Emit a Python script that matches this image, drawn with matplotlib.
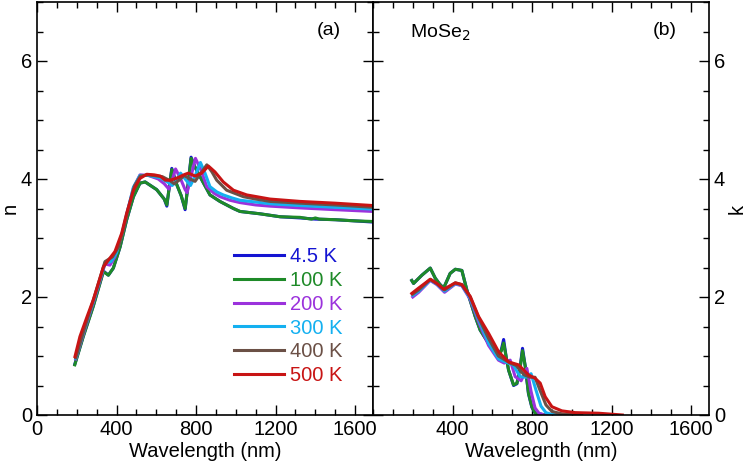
import matplotlib
matplotlib.use("Agg")
import matplotlib.pyplot as plt
from matplotlib.ticker import MultipleLocator

plt.rcParams['font.family'] = ['Liberation Sans', 'DejaVu Sans']

# ===== DATA =====
labels = ["4.5 K", "100 K", "200 K", "300 K", "400 K", "500 K"]
colors = ["#1414d2", "#1e8a28", "#9b32dc", "#14b0f0", "#6b5046", "#c81414"]

# refractive index n
n_wl_45 = [190, 233, 283, 334, 359, 384, 418, 451, 485, 518, 544, 602, 640, 653, 665, 678, 700, 725, 745,
           760, 775, 795, 820, 870, 920, 988, 1021, 1122, 1223, 1323, 1400, 1500, 1600, 1690]
n_45 = [0.86, 1.34, 1.85, 2.44, 2.37, 2.49, 2.85, 3.31, 3.70, 3.93, 3.95, 3.82, 3.66, 3.54, 3.86, 4.18, 3.93, 3.72, 3.48,
        3.92, 4.37, 4.20, 4.04, 3.73, 3.62, 3.50, 3.45, 3.41, 3.36, 3.34, 3.32, 3.31, 3.29, 3.27]
n_wl_100 = [190, 233, 283, 334, 359, 384, 418, 451, 485, 518, 544, 602, 640, 653, 665, 678, 700, 725, 745,
            760, 775, 795, 820, 870, 920, 988, 1021, 1122, 1223, 1323, 1380, 1400, 1420, 1500, 1600, 1690]
n_100 = [0.85, 1.33, 1.84, 2.43, 2.37, 2.49, 2.85, 3.31, 3.70, 3.93, 3.95, 3.82, 3.66, 3.56, 3.85, 4.16, 3.93, 3.72, 3.50,
         3.90, 4.35, 4.20, 4.04, 3.73, 3.62, 3.50, 3.45, 3.41, 3.36, 3.35, 3.32, 3.34, 3.32, 3.31, 3.29, 3.28]
n_wl_200 = [195, 240, 290, 342, 367, 392, 426, 451, 485, 518, 560, 610, 640, 663, 680, 697, 720, 745, 755, 775, 797,
            825, 854, 890, 921, 970, 1021, 1100, 1172, 1323, 1500, 1690]
n_200 = [0.95, 1.45, 1.98, 2.56, 2.54, 2.68, 3.05, 3.40, 3.85, 4.07, 4.06, 4.00, 3.92, 3.83, 3.98, 4.17, 4.02, 3.82, 3.77,
         4.05, 4.35, 4.15, 3.87, 3.76, 3.70, 3.64, 3.60, 3.56, 3.54, 3.51, 3.48, 3.45]
n_wl_300 = [195, 240, 290, 342, 372, 400, 430, 455, 485, 518, 560, 620, 660, 680, 700, 722, 750, 772, 795, 822, 845,
            870, 905, 937, 980, 1021, 1100, 1172, 1323, 1500, 1690]
n_300 = [0.96, 1.47, 2.00, 2.58, 2.60, 2.75, 3.10, 3.45, 3.86, 4.06, 4.06, 4.02, 3.94, 3.89, 3.96, 4.10, 3.98, 3.89,
         4.05, 4.28, 4.10, 3.87, 3.78, 3.73, 3.68, 3.64, 3.61, 3.58, 3.55, 3.52, 3.49]
n_wl_400 = [195, 240, 290, 342, 380, 410, 435, 460, 490, 520, 560, 630, 670, 690, 715, 740, 770, 795, 820, 854, 880,
            904, 954, 1000, 1038, 1100, 1172, 1323, 1500, 1690]
n_400 = [0.97, 1.48, 2.02, 2.60, 2.68, 2.85, 3.15, 3.50, 3.88, 4.05, 4.07, 4.04, 3.97, 3.92, 3.98, 4.06, 4.00, 3.96,
         4.08, 4.24, 4.12, 3.98, 3.81, 3.75, 3.70, 3.66, 3.62, 3.59, 3.56, 3.52]
n_wl_500 = [191, 216, 250, 283, 334, 367, 392, 426, 451, 485, 518, 552, 590, 619, 645, 669, 700, 719, 745, 762, 795,
            829, 862, 895, 937, 988, 1055, 1172, 1323, 1500, 1690]
n_500 = [0.99, 1.33, 1.65, 1.95, 2.51, 2.66, 2.77, 3.08, 3.42, 3.81, 4.01, 4.08, 4.07, 4.05, 3.98, 3.98, 4.01, 4.04,
         4.08, 4.10, 4.05, 4.10, 4.22, 4.12, 3.95, 3.81, 3.73, 3.66, 3.62, 3.59, 3.55]

# extinction coefficient k
k_wl_45 = [195, 204, 246, 288, 313, 335, 355, 375, 388, 414, 447, 472, 514, 539, 580, 615, 631, 645, 657, 670, 682,
           707, 724, 741, 752, 766, 782, 799, 816, 850, 900]
k_45 = [2.28, 2.23, 2.37, 2.49, 2.32, 2.22, 2.15, 2.30, 2.40, 2.47, 2.45, 2.12, 1.67, 1.44, 1.22, 1.05, 1.02, 1.10,
        1.28, 0.98, 0.76, 0.50, 0.53, 0.84, 1.13, 0.82, 0.36, 0.13, 0.03, 0.01, 0.0]
k_wl_100 = k_wl_45
k_100 = [2.28, 2.23, 2.37, 2.49, 2.32, 2.22, 2.15, 2.30, 2.40, 2.47, 2.45, 2.12, 1.67, 1.44, 1.22, 1.05, 1.02, 1.08,
         1.22, 0.98, 0.76, 0.51, 0.54, 0.82, 1.09, 0.82, 0.37, 0.14, 0.03, 0.01, 0.0]
k_wl_200 = [200, 230, 288, 321, 360, 414, 447, 489, 531, 581, 631, 660, 690, 715, 745, 774, 795, 815, 835, 860, 900]
k_200 = [2.00, 2.08, 2.28, 2.21, 2.08, 2.22, 2.19, 1.96, 1.58, 1.18, 0.93, 0.88, 0.93, 0.65, 0.58, 0.79, 0.40, 0.12,
         0.03, 0.0, 0.0]
k_wl_300 = [200, 230, 288, 321, 360, 414, 447, 489, 531, 581, 631, 680, 705, 740, 770, 795, 820, 845, 870, 900, 950]
k_300 = [2.03, 2.10, 2.29, 2.22, 2.10, 2.23, 2.20, 1.98, 1.62, 1.22, 0.95, 0.88, 0.85, 0.65, 0.64, 0.70, 0.42, 0.15,
         0.04, 0.01, 0.0]
k_wl_400 = [200, 230, 288, 321, 360, 414, 447, 489, 531, 581, 631, 690, 720, 760, 790, 815, 840, 870, 900, 950, 1050]
k_400 = [2.05, 2.12, 2.30, 2.23, 2.12, 2.24, 2.21, 2.00, 1.65, 1.30, 1.00, 0.88, 0.84, 0.68, 0.64, 0.64, 0.42, 0.17,
         0.06, 0.02, 0.0]
k_wl_500 = [195, 229, 288, 321, 355, 414, 447, 489, 531, 582, 632, 682, 732, 782, 816, 841, 866, 900, 950, 1017,
            1135, 1254]
k_500 = [2.06, 2.15, 2.30, 2.23, 2.13, 2.24, 2.21, 2.01, 1.67, 1.38, 1.07, 0.90, 0.85, 0.68, 0.62, 0.54, 0.31, 0.14,
         0.07, 0.04, 0.03, 0.0]

n_sets = [(n_wl_45, n_45), (n_wl_100, n_100), (n_wl_200, n_200),
          (n_wl_300, n_300), (n_wl_400, n_400), (n_wl_500, n_500)]
k_sets = [(k_wl_45, k_45), (k_wl_100, k_100), (k_wl_200, k_200),
          (k_wl_300, k_300), (k_wl_400, k_400), (k_wl_500, k_500)]

# ===== PLOT =====
fig = plt.figure(figsize=(7.49, 4.68), dpi=100)
ax1 = fig.add_axes([37 / 749, 1 - 415 / 468, 336 / 749, 413 / 468])
ax2 = fig.add_axes([373 / 749, 1 - 415 / 468, 336 / 749, 413 / 468])

for (wl, v), c, lab in zip(n_sets, colors, labels):
    ax1.plot(wl, v, color=c, lw=2.2, label=lab)
for (wl, v), c in zip(k_sets, colors):
    ax2.plot(wl, v, color=c, lw=2.2)

for ax in (ax1, ax2):
    ax.set_xlim(0, 1690)
    ax.set_ylim(0, 7)
    ax.xaxis.set_minor_locator(MultipleLocator(100))
    ax.yaxis.set_major_locator(MultipleLocator(2))
    ax.yaxis.set_minor_locator(MultipleLocator(0.5))
    ax.tick_params(which="both", direction="in", top=True, right=True, left=True, labelsize=14.5)
    ax.tick_params(which="major", length=7, width=1)
    ax.tick_params(which="minor", length=4, width=1)
    for s in ax.spines.values():
        s.set_linewidth(1.2)

ax1.set_xticks([0, 400, 800, 1200, 1600])
ax2.set_xticks([400, 800, 1200, 1600])
ax2.tick_params(labelleft=False, labelright=True)
ax2.yaxis.set_label_position("right")

ax1.set_xlabel("Wavelength (nm)", fontsize=14.5, labelpad=2)
ax2.set_xlabel("Wavelegnth (nm)", fontsize=14.5, labelpad=2)
ax1.set_ylabel("n", fontsize=14.5)
ax2.set_ylabel("k", fontsize=14.5)
ax1.yaxis.set_label_coords(-0.052, 0.5)
ax2.yaxis.set_label_coords(1.055, 0.5)

ax1.text(0.869, 0.93, "(a)", transform=ax1.transAxes, ha="center", va="center", fontsize=14)
ax2.text(0.869, 0.93, "(b)", transform=ax2.transAxes, ha="center", va="center", fontsize=14)
ax2.text(0.11, 0.925, "MoSe$_2$", transform=ax2.transAxes, ha="left", va="center", fontsize=14)

ax1.legend(loc="upper left", bbox_to_anchor=(234 / 749, 1 - 247 / 468), bbox_transform=fig.transFigure,
           frameon=False, fontsize=14.5, labelcolor="linecolor", handlelength=2.5, handletextpad=0.3,
           labelspacing=0.24, borderpad=0, borderaxespad=0)

fig.savefig("out.png", dpi=100)
